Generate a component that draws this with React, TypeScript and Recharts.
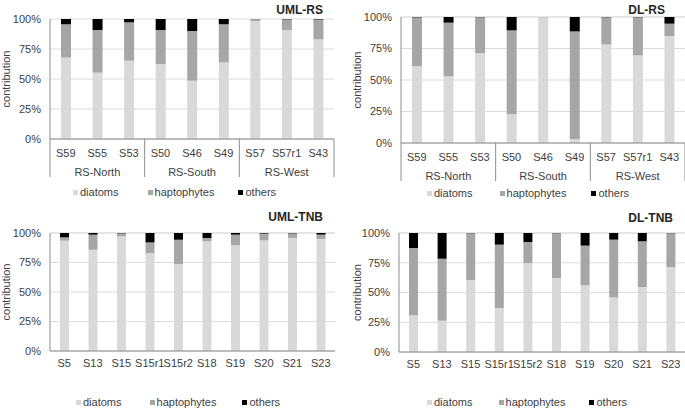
import { BarChart, Bar, XAxis, YAxis, CartesianGrid } from "recharts";

const FONT = '"Liberation Sans", Arial, sans-serif';
const TEXT = "#404040";
const AXIS = "#8c8c8c";
const GRID = "#dcdcdc";
const DIATOM_COLOR = "#d9d9d9";
const HAPTO_COLOR = "#a6a6a6";
const OTHER_COLOR = "#000000";

const pctTicks = [0, 25, 50, 75, 100];

// RS stations
const rsSamples = ["S59", "S55", "S53", "S50", "S46", "S49", "S57", "S57r1", "S43"];
const rsRegions = ["RS-North", "RS-North", "RS-North", "RS-South", "RS-South", "RS-South", "RS-West", "RS-West", "RS-West"];

const umlRsDiatoms = [67.8, 55.3, 65.3, 62.5, 48.6, 63.9, 98.3, 90.8, 83.0];
const umlRsHapto = [27.8, 35.5, 31.9, 28.3, 41.4, 31.7, 1.7, 8.9, 16.6];
const umlRsOthers = [4.4, 9.2, 2.8, 9.2, 10.0, 4.4, 0, 0.3, 0.4];

const dlRsDiatoms = [61.0, 53.0, 71.4, 23.0, 99.8, 3.2, 78.2, 69.5, 84.9];
const dlRsHapto = [38.7, 42.5, 28.4, 66.4, 0.2, 85.4, 21.6, 30.3, 9.8];
const dlRsOthers = [0.3, 4.5, 0.2, 10.6, 0, 11.4, 0.2, 0.2, 5.3];

// TNB stations
const tnbSamples = ["S5", "S13", "S15", "S15r1", "S15r2", "S18", "S19", "S20", "S21", "S23"];

const umlTnbDiatoms = [93.5, 85.8, 97.2, 83.0, 73.7, 93.0, 89.5, 93.8, 95.8, 94.9];
const umlTnbHapto = [2.8, 12.8, 2.5, 9.0, 20.6, 2.8, 9.1, 5.7, 3.9, 3.7];
const umlTnbOthers = [3.7, 1.4, 0.3, 8.0, 5.7, 4.2, 1.4, 0.5, 0.3, 1.4];

const dlTnbDiatoms = [30.8, 26.3, 60.5, 37.0, 74.8, 62.2, 56.0, 45.9, 54.6, 71.4];
const dlTnbHapto = [56.6, 52.1, 39.3, 53.2, 17.6, 37.6, 33.4, 48.5, 38.4, 28.4];
const dlTnbOthers = [12.6, 21.6, 0.2, 9.8, 7.6, 0.2, 10.6, 5.6, 7.0, 0.2];

const buildRows = (samples: string[], d: number[], h: number[], o: number[], regions?: string[]) =>
  samples.map((name, i) => ({
    name,
    region: regions ? regions[i] : "",
    diatoms: d[i],
    haptophytes: h[i],
    others: o[i],
  }));

type PanelProps = {
  title: string;
  rows: ReturnType<typeof buildRows>;
  grouped: boolean;
  left: number;
  top: number;
  width: number;
  height: number;
  marginTop: number;
  marginRight: number;
  yAxisWidth: number;
  xAxisHeight: number;
  barSize: number;
  labelX: number;
  titleRight: number;
  titleTop: number;
  legendLeft: number;
  legendTop: number;
  legendGaps: number[];
};

const Panel = (p: PanelProps) => {
  const n = p.rows.length;
  const band = (p.width - p.yAxisWidth - p.marginRight) / n;

  const renderTick = (props: any) => {
    const { x, y, payload } = props;
    const i: number = props.index ?? payload.index;
    const sampleY = p.grouped ? 14 : 12;
    const parts = [
      <text key="s" x={x} y={y + sampleY} textAnchor="middle" dominantBaseline="central" fill={TEXT} fontSize={11} fontFamily={FONT}>
        {payload.value}
      </text>,
    ];
    if (p.grouped) {
      const region = p.rows[i].region;
      const isFirst = i === 0 || p.rows[i - 1].region !== region;
      if (isFirst) {
        let end = i;
        while (end + 1 < n && p.rows[end + 1].region === region) end++;
        const cx = x + ((end - i) / 2) * band;
        parts.push(
          <line key="l" x1={x - band / 2} x2={x - band / 2} y1={y} y2={y + 38} stroke={AXIS} />,
          <text key="g" x={cx} y={y + 33} textAnchor="middle" dominantBaseline="central" fill={TEXT} fontSize={11} fontFamily={FONT}>
            {region}
          </text>
        );
      }
      if (i === n - 1) {
        parts.push(<line key="r" x1={x + band / 2} x2={x + band / 2} y1={y} y2={y + 38} stroke={AXIS} />);
      }
    }
    return <g>{parts}</g>;
  };

  const legendItems = [
    { label: "diatoms", color: DIATOM_COLOR },
    { label: "haptophytes", color: HAPTO_COLOR },
    { label: "others", color: OTHER_COLOR },
  ];

  return (
    <div style={{ position: "absolute", left: p.left, top: p.top, width: p.width, height: p.height }}>
      <BarChart
        width={p.width}
        height={p.height}
        data={p.rows}
        margin={{ top: p.marginTop, right: p.marginRight, bottom: 0, left: 0 }}
      >
        <CartesianGrid vertical={false} stroke={GRID} />
        <XAxis
          dataKey="name"
          height={p.xAxisHeight}
          interval={0}
          tickLine={false}
          tickSize={0}
          tickMargin={0}
          axisLine={{ stroke: AXIS }}
          tick={renderTick}
        />
        <YAxis
          domain={[0, 100]}
          ticks={pctTicks}
          width={p.yAxisWidth}
          tickFormatter={(v: number) => `${v}%`}
          tickLine={false}
          tickSize={0}
          tickMargin={9}
          axisLine={{ stroke: AXIS }}
          tick={{ fill: TEXT, fontSize: 11, fontFamily: FONT }}
          label={{
            content: ({ viewBox }: any) => {
              const lx = viewBox.x + p.labelX;
              const ly = viewBox.y + viewBox.height / 2;
              return (
                <text
                  x={lx}
                  y={ly}
                  transform={`rotate(-90, ${lx}, ${ly})`}
                  textAnchor="middle"
                  dominantBaseline="central"
                  fill={TEXT}
                  fontSize={11}
                  fontFamily={FONT}
                >
                  contribution
                </text>
              );
            },
          }}
        />
        <Bar dataKey="diatoms" stackId="a" fill={DIATOM_COLOR} barSize={p.barSize} isAnimationActive={false} />
        <Bar dataKey="haptophytes" stackId="a" fill={HAPTO_COLOR} barSize={p.barSize} isAnimationActive={false} />
        <Bar dataKey="others" stackId="a" fill={OTHER_COLOR} barSize={p.barSize} isAnimationActive={false} />
      </BarChart>
      <div
        style={{
          position: "absolute",
          right: p.width - p.titleRight,
          top: p.titleTop,
          fontFamily: FONT,
          fontWeight: "bold",
          fontSize: 12,
          color: "#262626",
          lineHeight: "14px",
          whiteSpace: "nowrap",
          zIndex: 2,
        }}
      >
        {p.title}
      </div>
      <div
        style={{
          position: "absolute",
          left: p.legendLeft,
          top: p.legendTop,
          display: "flex",
          alignItems: "center",
          fontFamily: FONT,
          fontSize: 11,
          color: TEXT,
          lineHeight: "13px",
          whiteSpace: "nowrap",
          zIndex: 2,
        }}
      >
        {legendItems.map((it, i) => (
          <div key={it.label} style={{ display: "flex", alignItems: "center", marginRight: p.legendGaps[i] ?? 0 }}>
            <span style={{ display: "inline-block", width: 5, height: 5, background: it.color, marginRight: 2 }} />
            <span>{it.label}</span>
          </div>
        ))}
      </div>
    </div>
  );
}

export default function App() {
  return (
    <div style={{ position: "absolute", left: 0, top: 0, width: 685, height: 409, background: "#fff", overflow: "hidden" }}>
      <Panel
        title="UML-RS"
        rows={buildRows(rsSamples, umlRsDiatoms, umlRsHapto, umlRsOthers, rsRegions)}
        grouped
        left={0}
        top={0}
        width={345}
        height={185}
        marginTop={19}
        marginRight={11}
        yAxisWidth={50}
        xAxisHeight={46}
        barSize={10}
        labelX={6}
        titleRight={323}
        titleTop={3}
        legendLeft={73}
        legendTop={186}
        legendGaps={[29, 24]}
      />
      <Panel
        title="DL-RS"
        rows={buildRows(rsSamples, dlRsDiatoms, dlRsHapto, dlRsOthers, rsRegions)}
        grouped
        left={340}
        top={0}
        width={345}
        height={185}
        marginTop={17}
        marginRight={0}
        yAxisWidth={61}
        xAxisHeight={42}
        barSize={10}
        labelX={17}
        titleRight={325}
        titleTop={3}
        legendLeft={87}
        legendTop={187}
        legendGaps={[27, 25]}
      />
      <Panel
        title="UML-TNB"
        rows={buildRows(tnbSamples, umlTnbDiatoms, umlTnbHapto, umlTnbOthers)}
        grouped={false}
        left={0}
        top={200}
        width={345}
        height={171}
        marginTop={33}
        marginRight={10}
        yAxisWidth={50}
        xAxisHeight={20}
        barSize={9}
        labelX={6}
        titleRight={323}
        titleTop={10}
        legendLeft={76}
        legendTop={196}
        legendGaps={[28, 26]}
      />
      <Panel
        title="DL-TNB"
        rows={buildRows(tnbSamples, dlTnbDiatoms, dlTnbHapto, dlTnbOthers)}
        grouped={false}
        left={340}
        top={200}
        width={345}
        height={172}
        marginTop={33}
        marginRight={0}
        yAxisWidth={59}
        xAxisHeight={20}
        barSize={9}
        labelX={17}
        titleRight={333}
        titleTop={11}
        legendLeft={87}
        legendTop={196}
        legendGaps={[26, 24]}
      />
    </div>
  );
}
